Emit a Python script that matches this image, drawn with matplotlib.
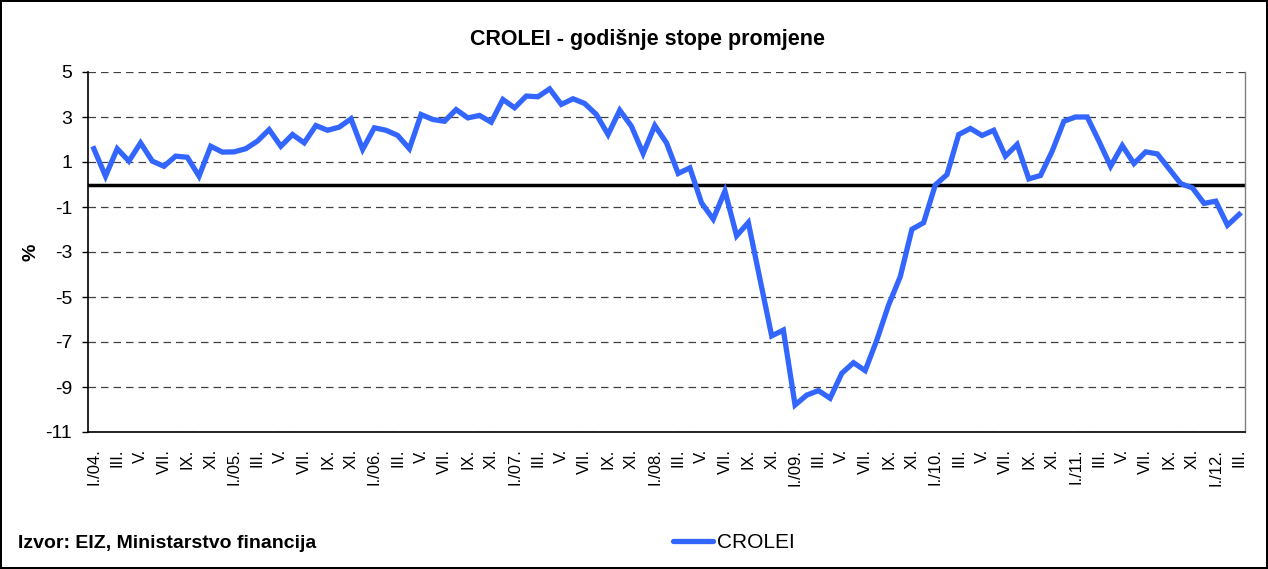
import matplotlib
matplotlib.use('Agg')
import matplotlib.pyplot as plt

plt.rcParams['font.family'] = ['Liberation Sans', 'DejaVu Sans']

# monthly data, I./04 - III./12
months = ['I.', 'II.', 'III.', 'IV.', 'V.', 'VI.', 'VII.', 'VIII.', 'IX.', 'X.', 'XI.', 'XII.']
years = ['04', '05', '06', '07', '08', '09', '10', '11', '12']

crolei = [
    1.59, 0.37, 1.59, 1.04, 1.85, 1.04, 0.81, 1.26, 1.21, 0.37, 1.70, 1.44,
    1.45, 1.59, 1.93, 2.44, 1.70, 2.22, 1.85, 2.62, 2.41, 2.55, 2.92, 1.56,
    2.52, 2.41, 2.18, 1.59, 3.11, 2.89, 2.81, 3.33, 2.96, 3.07, 2.77, 3.78,
    3.41, 3.93, 3.90, 4.25, 3.56, 3.81, 3.60, 3.11, 2.22, 3.30, 2.59, 1.38,
    2.62, 1.85, 0.49, 0.74, -0.82, -1.54, -0.29, -2.28, -1.69, -4.21, -6.73, -6.47,
    -9.80, -9.36, -9.16, -9.50, -8.39, -7.92, -8.27, -6.91, -5.36, -4.10, -1.99, -1.70,
    -0.02, 0.44, 2.22, 2.49, 2.18, 2.41, 1.26, 1.78, 0.25, 0.40, 1.48, 2.81,
    3.00, 3.00, 1.93, 0.81, 1.73, 0.93, 1.45, 1.36, 0.70, 0.04, -0.15, -0.84,
    -0.74, -1.81, -1.33,
]

# category labels: every second month, year on January
labels = []
for i in range(len(crolei)):
    m = i % 12
    y = years[i // 12]
    labels.append(months[m] + '/' + y + '.' if m == 0 else months[m])

yticks = [5, 3, 1, -1, -3, -5, -7, -9, -11]

fig = plt.figure(figsize=(12.68, 5.69), dpi=100)
fig.patch.set_edgecolor('black')
fig.patch.set_linewidth(1.5)

ax = fig.add_axes([88 / 1268, 137 / 569, 1157 / 1268, 360 / 569])
x = list(range(len(crolei)))
ax.plot(x, crolei, color='#3366FF', lw=3.8, solid_joinstyle='miter', label='CROLEI', zorder=3)
ax.axhline(0, color='black', lw=2.5, zorder=2)

ax.set_xlim(-0.5, len(crolei) - 0.5)
ax.set_ylim(-11, 5)
ax.set_yticks(yticks)
ax.set_yticklabels([str(v) for v in yticks], fontsize=14)
ax.yaxis.grid(True, linestyle=(0, (6, 4)), color='#404040', lw=0.9)
ax.set_xticks(x[::2])
ax.set_xticklabels(labels[::2], rotation=90, fontsize=12)
ax.tick_params(axis='x', length=0, pad=12)
ax.tick_params(axis='y', length=4.3, width=1, pad=7)

ax.spines['top'].set_visible(False)
ax.spines['right'].set_color('#808080')
ax.spines['right'].set_linewidth(1)
ax.spines['left'].set_linewidth(1.2)
ax.spines['bottom'].set_linewidth(1.2)

ax.set_ylabel('%', fontsize=14, fontweight='bold')
ax.yaxis.set_label_coords(-49 / 1157, 0.5)
fig.text(648 / 1268, 1 - 40 / 569, 'CROLEI - godišnje stope promjene', ha='center', va='center',
         fontsize=15.5, fontweight='bold')
fig.text(18 / 1268, 1 - 543 / 569, 'Izvor: EIZ, Ministarstvo financija', ha='left', va='center',
         fontsize=14, fontweight='bold')
leg = fig.legend(loc='center left', bbox_to_anchor=(673 / 1268, 1 - 543 / 569), frameon=False,
                 fontsize=15, handlelength=1.9, handletextpad=0.2, borderaxespad=0, borderpad=0)
for h in leg.get_lines():
    h.set_solid_capstyle('round')

fig.savefig('out.png', dpi=100)
